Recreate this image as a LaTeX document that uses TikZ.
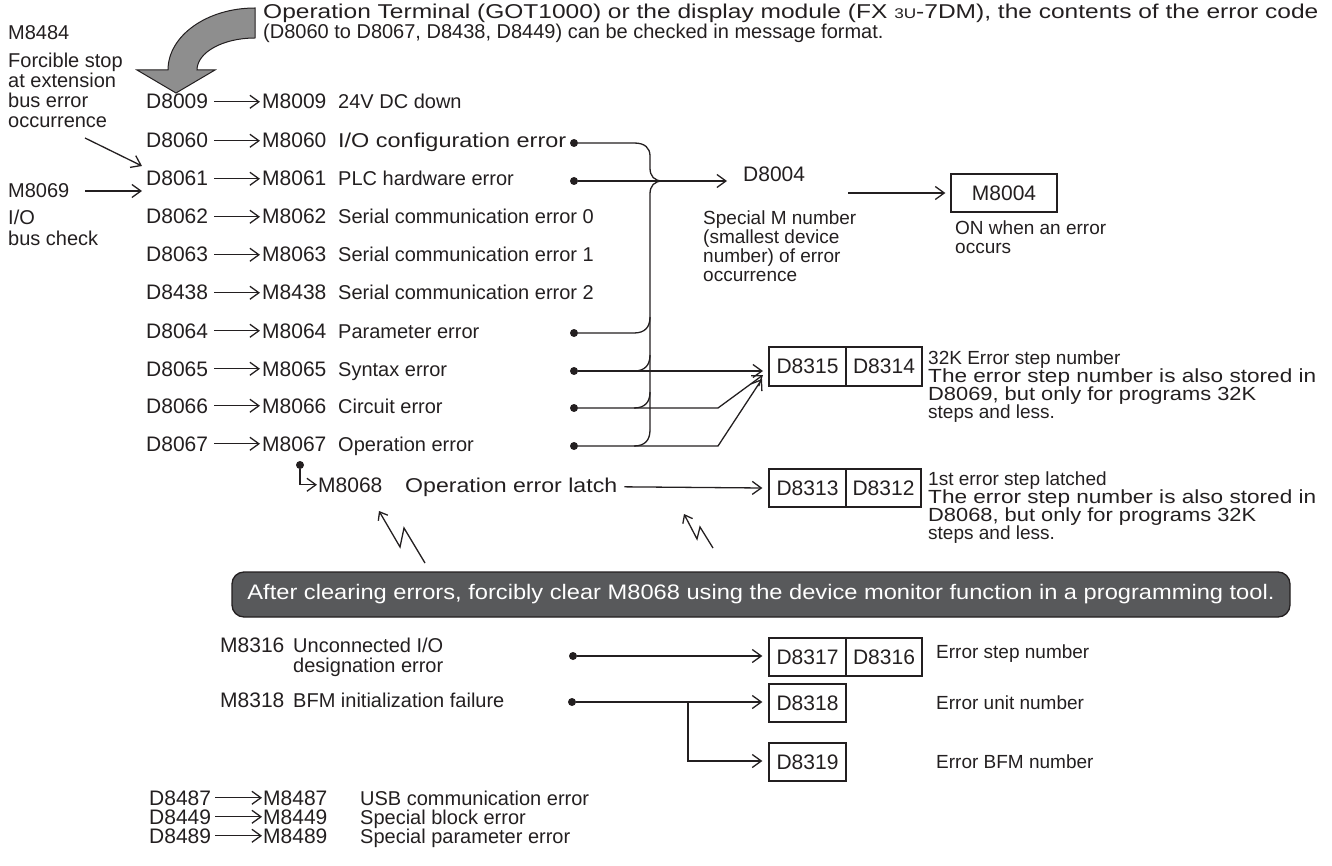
\documentclass[tikz,border=0pt]{standalone}
\usepackage{fontspec}
\usepackage{graphicx}
\setmainfont{Liberation Sans}
\usetikzlibrary{arrows.meta}
\definecolor{ink}{HTML}{231F20}
\definecolor{arrowgray}{HTML}{8E8E8E}
\definecolor{boxgray}{HTML}{58595B}
\newcommand{\wbox}[2]{\resizebox{#1}{\height}{#2}}
\begin{document}
\begin{tikzpicture}[x=1pt,y=-1pt,
 txt/.style={anchor=base west, inner sep=0pt, text=ink, font=\fontsize{21}{21}\selectfont},
 desc/.style={anchor=base west, inner sep=0pt, text=ink, font=\fontsize{20}{20}\selectfont},
 sm/.style={anchor=base west, inner sep=0pt, text=ink, font=\fontsize{19}{19}\selectfont},
 ln/.style={draw=ink, line width=1.3pt},
 arr/.style={ln, -{Straight Barb[length=9pt,width=13pt,line width=1.3pt]}},
 bolt/.style={ln, -{Straight Barb[length=7pt,width=11pt,line width=1.3pt]}},
 dot/.style={circle, fill=ink, inner sep=0pt, minimum size=8pt},
 cell/.style={draw=ink, line width=1.3pt, inner sep=0pt, minimum height=39pt, text=ink, font=\fontsize{21}{21}\selectfont},
]
\useasboundingbox (0,0) rectangle (1332,866);

% top text
\node[desc] (top1) at (263,19) {\wbox{1055pt}{Operation Terminal (GOT1000) or the display module (FX {\fontsize{14}{14}\selectfont 3U}-7DM), the contents of the error code}};
\node[desc] (top2) at (263,39) {(D8060 to D8067, D8438, D8449) can be checked in message format.};

% big gray arrow
\path[draw=ink, fill=arrowgray, line width=1pt] (255,8) arc[start angle=90, end angle=180, x radius=87pt, y radius=62pt]
  -- (137,70) -- (176,93) -- (215,70) -- (197,70)
  arc[start angle=180, end angle=90, x radius=58pt, y radius=32pt] -- cycle;

% left notes
\node[desc] (n1) at (8,40) {M8484};
\node[desc] (n2) at (8,68) {Forcible stop};
\node[desc] (n3) at (8,88) {at extension};
\node[desc] (n4) at (8,108) {bus error};
\node[desc] (n5) at (8,128) {occurrence};
\node[desc] (n6) at (8,198) {M8069};
\node[desc] (n7) at (8,225) {I/O};
\node[desc] (n8) at (8,246) {bus check};
\coordinate (s1) at (85,138);
\coordinate (e1) at (142,166);
\draw[arr] (s1) -- (e1);
\coordinate (s2) at (85,191);
\coordinate (e2) at (142,191);
\draw[arr] (s2) -- (e2);

% rows
\foreach \n/\t/\y [count=\i] in {8009/{24V DC down}/104, 8060/{\wbox{228pt}{I/O configuration error}}/143, 8061/{PLC hardware error}/181, 8062/{Serial communication error 0}/219, 8063/{Serial communication error 1}/257, 8438/{Serial communication error 2}/295, 8064/{Parameter error}/333, 8065/{Syntax error}/371, 8066/{Circuit error}/408, 8067/{Operation error}/446}{
  \node[txt] (d\i) at (146,\y+5) {D\n};
  \node[txt] (m\i) at (262,\y+5) {M\n};
  \node[desc] (t\i) at (338,\y+5) {\t};
  \draw[arr] ([xshift=6pt]d\i.east) -- ([xshift=-2pt]m\i.west);
}

% dots
\node[dot] (p2) at (574,143) {};
\node[dot] (p3) at (574,181) {};
\node[dot] (p7) at (574,333) {};
\node[dot] (p8) at (574,371) {};
\node[dot] (p9) at (574,408) {};
\node[dot] (p10) at (574,446) {};

% brace
\draw[ln] (p2) -- (634,143) .. controls (645,143) and (650,148) .. (650,156) -- (650,168)
  .. controls (650,176) and (654,181) .. (663,181);
\draw[ln] (663,181) .. controls (654,181) and (650,186) .. (650,194) -- (650,430);
\draw[ln] (p7) -- (634,333) .. controls (645,333) and (650,327) .. (650,317);
\foreach \L in {371,408,446}{
  \draw[ln] (634,\L) .. controls (645,\L) and (650,\L-6) .. (650,\L-16);
}

% D8004
\coordinate (a8004) at (727,181);
\draw[arr] (p3) -- (a8004);
\node[txt] (d8004) at (743,182) {D8004};
\node[sm] (sp1) at (703,225) {Special M number};
\node[sm] (sp2) at (703,244) {(smallest device};
\node[sm] (sp3) at (703,263) {number) of error};
\node[sm] (sp4) at (703,282) {occurrence};

% M8004
\node[cell, minimum width=106pt, minimum height=38pt] (m8004) at (1004,193) {M8004};
\coordinate (s8004) at (848,193);
\draw[arr] (s8004) -- ([xshift=-5pt]m8004.west);
\node[sm] (on1) at (955,235) {ON when an error};
\node[sm] (on2) at (955,254) {occurs};

% D8315 / D8314
\node[cell, minimum width=77pt] (b8315) at (807.5,366.5) {D8315};
\node[cell, minimum width=76pt] (b8314) at (884,366.5) {D8314};
\coordinate (i1) at (763,371);
\coordinate (i2) at (763,375);
\coordinate (i3) at (762,379);
\draw[arr] (p8) -- (i1);
\draw[arr] (p9) -- (718,408) -- (i2);
\draw[arr] (p10) -- (718,446) -- (i3);
\node[sm] (r1) at (928,364) {32K Error step number};
\node[sm] (r2) at (928,382) {\wbox{388pt}{The error step number is also stored in}};
\node[sm] (r3) at (928,400) {\wbox{328pt}{D8069, but only for programs 32K}};
\node[sm] (r4) at (928,418) {steps and less.};

% M8068
\node[dot] (p11) at (300,465) {};
\node[txt] (m8068) at (318,492) {M8068};
\node[desc] (t8068) at (405,492) {\wbox{212pt}{Operation error latch}};
\draw[arr] (p11) |- ([xshift=-1pt]m8068.west);
\node[cell, minimum width=77pt, minimum height=38pt] (b8313) at (807.5,488) {D8313};
\node[cell, minimum width=75pt, minimum height=38pt] (b8312) at (883.5,488) {D8312};
\draw[arr] ([xshift=7pt]t8068.east) -- ([xshift=-6pt]b8313.west);
\node[sm] (q1) at (928,485) {1st error step latched};
\node[sm] (q2) at (928,503) {\wbox{388pt}{The error step number is also stored in}};
\node[sm] (q3) at (928,521) {\wbox{328pt}{D8068, but only for programs 32K}};
\node[sm] (q4) at (928,539) {steps and less.};

% lightning bolts
\draw[bolt] (425,563) -- (404,528) -- (400,547) -- (379,511);
\draw[bolt] (713,548) -- (700,527) -- (697,539) -- (684,514);

% note box
\node[draw=ink, fill=boxgray, rounded corners=12pt, line width=1.3pt, minimum width=1058pt, minimum height=45pt, inner sep=0pt, text=white, font=\fontsize{21}{21}\selectfont] (note) at (761,594.5) {\wbox{1027pt}{After clearing errors, forcibly clear M8068 using the device monitor function in a programming tool.}};

% M8316 / M8318
\node[txt] (m8316) at (220,652) {M8316};
\node[desc] (u1) at (293,652) {Unconnected I/O};
\node[desc] (u2) at (293,672) {designation error};
\node[dot] (p12) at (573,656) {};
\node[cell, minimum width=77pt, minimum height=38pt] (b8317) at (807.5,657) {D8317};
\node[cell, minimum width=76pt, minimum height=38pt] (b8316) at (884,657) {D8316};
\draw[arr] (p12) -- ([xshift=-6pt,yshift=1pt]b8317.west);
\node[sm] (es) at (936,658) {Error step number};

\node[txt] (m8318) at (220,707) {M8318};
\node[desc] (u3) at (293,707) {BFM initialization failure};
\node[dot] (p13) at (572,702) {};
\node[cell, minimum width=77pt, minimum height=38pt] (b8318) at (807.5,703) {D8318};
\node[cell, minimum width=77pt, minimum height=38pt] (b8319) at (807.5,762) {D8319};
\draw[arr] (p13) -- ([xshift=-6pt,yshift=1pt]b8318.west);
\coordinate (br) at (688,702);
\draw[arr] (br) |- ([xshift=-6pt,yshift=1pt]b8319.west);
\node[sm] (eu) at (936,709) {Error unit number};
\node[sm] (eb) at (936,768) {Error BFM number};

% bottom list
\foreach \n/\t/\y [count=\i] in {8487/{USB communication error}/805, 8449/{Special block error}/824, 8489/{Special parameter error}/843}{
  \node[txt] (bd\i) at (149,\y) {D\n};
  \node[txt] (bm\i) at (263,\y) {M\n};
  \node[desc] (bt\i) at (360,\y) {\t};
  \draw[arr] ([xshift=4pt]bd\i.east) -- ([xshift=-1pt]bm\i.west);
}
\end{tikzpicture}
\end{document}
